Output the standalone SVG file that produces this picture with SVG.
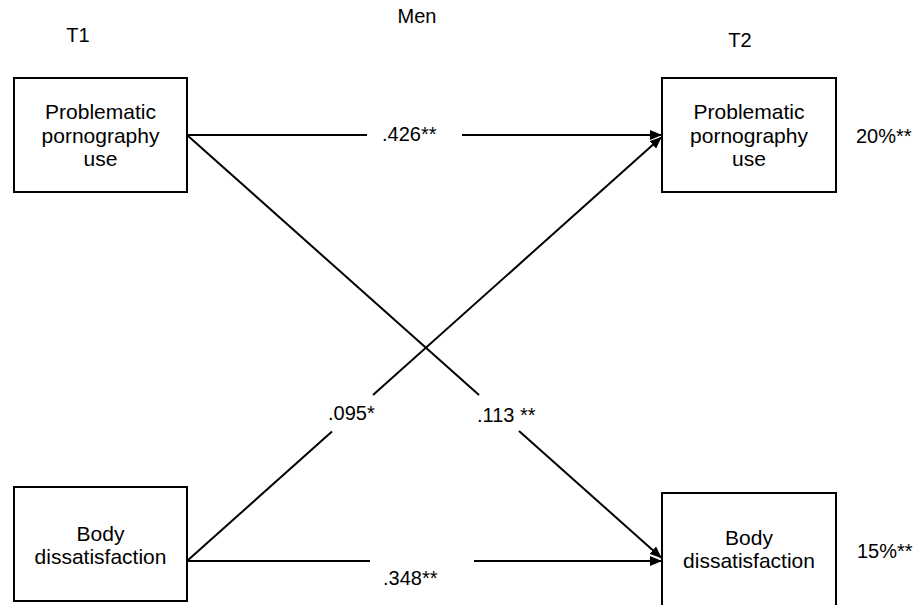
<svg xmlns="http://www.w3.org/2000/svg" width="919" height="605" viewBox="0 0 919 605">
<style>
text{font-family:"Liberation Sans",Arial,sans-serif;font-size:20px;fill:#000}
.c{text-anchor:middle}
.bt{font-size:21px}
.box{fill:#fff;stroke:#000;stroke-width:2}
.ln{stroke:#000;stroke-width:2;fill:none}
</style>
<defs>
<marker id="ah" markerWidth="12" markerHeight="10" refX="11" refY="5" orient="auto" markerUnits="userSpaceOnUse">
<path d="M0,0 L12,5 L0,10 Z" fill="#000"/>
</marker>
</defs>
<rect width="919" height="605" fill="#fff"/>
<text class="c" x="417" y="23">Men</text>
<text class="c" x="78" y="42">T1</text>
<text class="c" x="740" y="47">T2</text>

<g id="connectors">
<line class="ln" x1="187" y1="135" x2="367" y2="135"/>
<line class="ln" x1="462" y1="135" x2="661" y2="135" marker-end="url(#ah)"/>
<line class="ln" x1="187" y1="561" x2="370" y2="561"/>
<line class="ln" x1="474" y1="561" x2="661" y2="561" marker-end="url(#ah)"/>
<line class="ln" x1="187" y1="561" x2="332" y2="431.5"/>
<line class="ln" x1="373" y1="395" x2="661" y2="137.5" marker-end="url(#ah)"/>
<line class="ln" x1="187" y1="135" x2="479" y2="395"/>
<line class="ln" x1="519" y1="431" x2="661" y2="557.5" marker-end="url(#ah)"/>
<text x="382" y="141">.426**</text>
<text x="383" y="585">.348**</text>
<text x="328" y="420">.095*</text>
<text x="477" y="422">.113 **</text>
</g>

<g id="t1-ppu">
<rect class="box" x="14" y="78" width="173" height="114"/>
<text class="c bt" x="100.5" y="119">Problematic</text>
<text class="c bt" x="100.5" y="143">pornography</text>
<text class="c bt" x="100.5" y="166">use</text>
</g>
<g id="t2-ppu">
<rect class="box" x="662" y="78" width="174" height="114"/>
<text class="c bt" x="749" y="119">Problematic</text>
<text class="c bt" x="749" y="143">pornography</text>
<text class="c bt" x="749" y="166">use</text>
<text x="856" y="143">20%**</text>
</g>
<g id="t1-bd">
<rect class="box" x="14" y="487" width="173" height="114"/>
<text class="c bt" x="100.5" y="541">Body</text>
<text class="c bt" x="100.5" y="564">dissatisfaction</text>
</g>
<g id="t2-bd">
<rect class="box" x="662" y="493" width="174" height="120"/>
<text class="c bt" x="749" y="545">Body</text>
<text class="c bt" x="749" y="568">dissatisfaction</text>
<text x="857" y="558">15%**</text>
</g>
</svg>
